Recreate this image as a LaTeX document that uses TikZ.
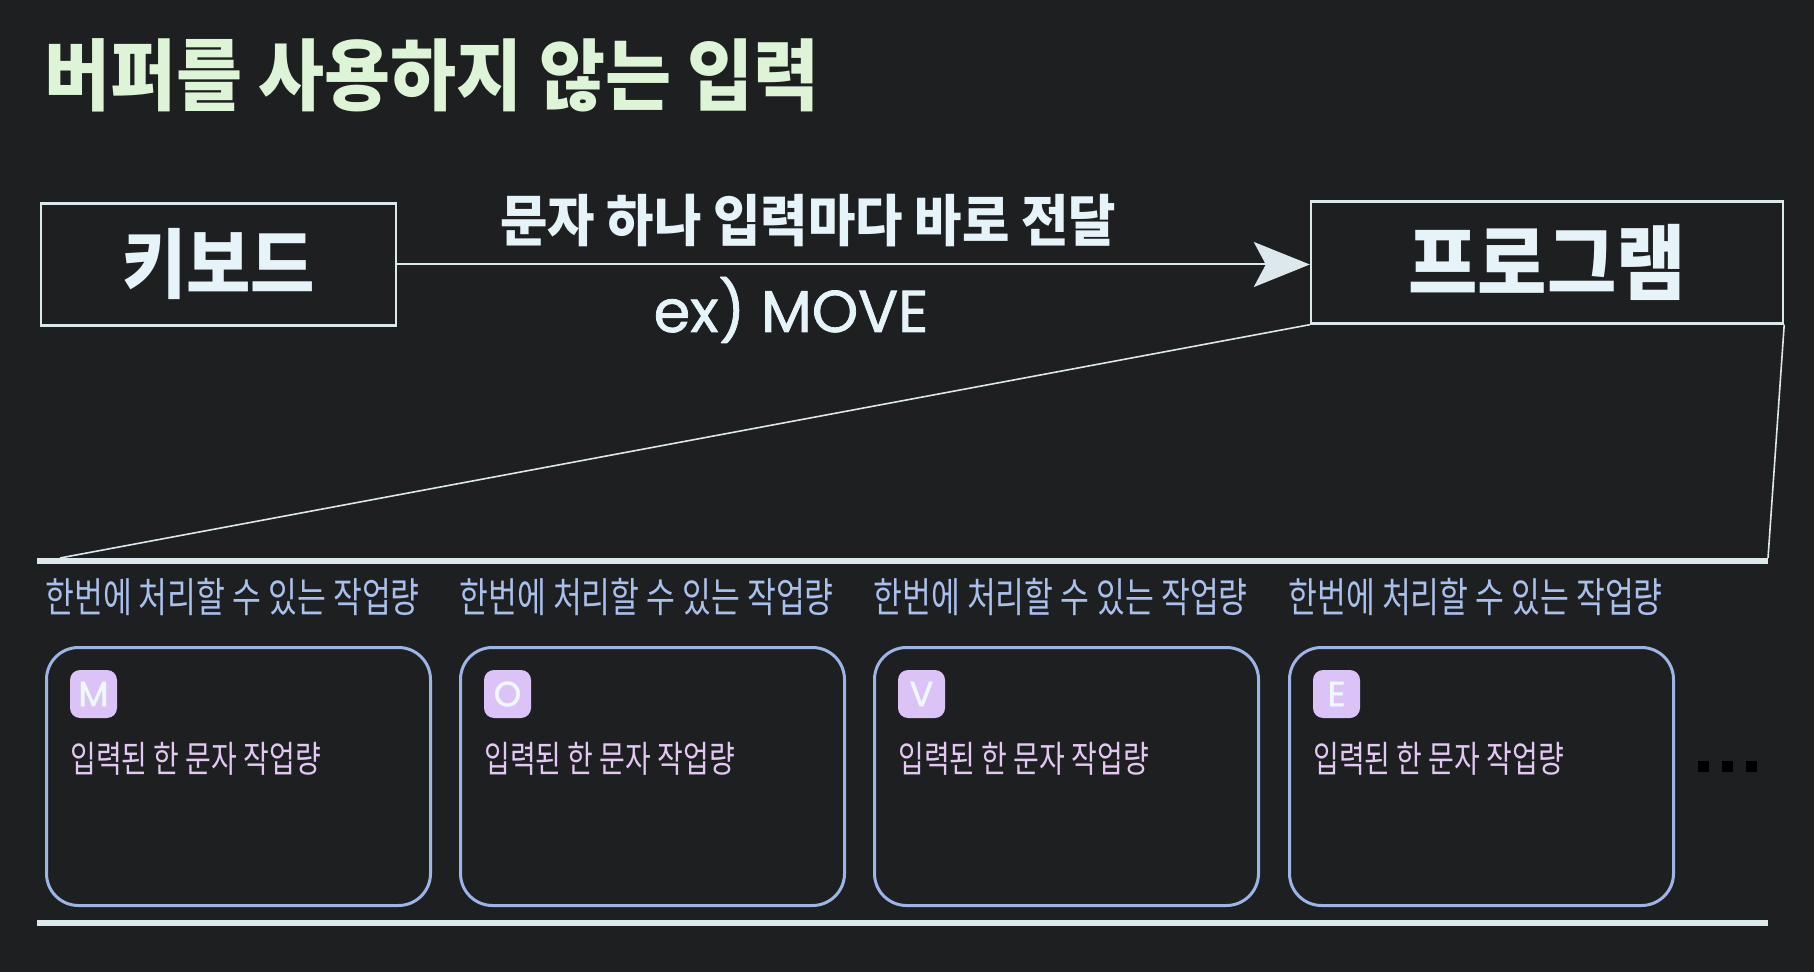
\documentclass[tikz,border=0pt]{standalone}
\usepackage{fontspec}
\setmainfont{Noto Sans CJK KR}
\newfontfamily\pop[FakeBold=1.3]{Poppins}
\newfontfamily\kcond[FakeStretch=0.765]{Noto Sans CJK KR}
\newfontfamily\kbig[FakeStretch=0.92]{Noto Sans CJK KR}
\usetikzlibrary{arrows.meta,calc}
\definecolor{bg}{HTML}{1E1F21}
\definecolor{titlegreen}{HTML}{DDF5D6}
\definecolor{boxtext}{HTML}{E6F4FA}
\definecolor{boxline}{HTML}{DCE8EC}
\definecolor{headblue}{HTML}{A9BFEC}
\definecolor{cardline}{HTML}{9DB4E8}
\definecolor{badgefill}{HTML}{DCC3F7}
\definecolor{cardtext}{HTML}{E2C8F2}
\definecolor{badgeletter}{HTML}{EEF8FF}
\begin{document}
\begin{tikzpicture}[x=0.5pt,y=-0.5pt,
  titlestyle/.style={inner sep=0pt, text=titlegreen, font=\kbig\fontsize{39}{44}\selectfont\bfseries},
  bigbox/.style={draw=boxline, line width=1.2pt, inner sep=0pt, text=boxtext},
  kbfont/.style={font=\kbig\fontsize{38}{42}\selectfont\bfseries},
  progfont/.style={font=\kbig\fontsize{41}{46}\selectfont\bfseries},
  conn/.style={draw=boxline, line width=1pt},
  lbl/.style={inner sep=0pt, text=boxtext, font=\kbig\fontsize{28}{32}\selectfont\bfseries},
  exlbl/.style={inner sep=0pt, text=boxtext, font=\pop\fontsize{29.5}{34}\selectfont},
  thinline/.style={draw=boxline, line width=0.8pt},
  bar/.style={draw=boxline, line width=3pt},
  card/.style={draw=cardline, line width=1.5pt, rounded corners=16pt, minimum width=192pt, minimum height=129pt, inner sep=0pt},
  head/.style={inner sep=0pt, text=headblue, font=\kcond\fontsize{20.5}{24}\selectfont},
  badge/.style={fill=badgefill, rounded corners=5pt, minimum width=23.5pt, minimum height=24pt, inner sep=0pt, text=badgeletter, font=\pop\fontsize{17.5}{18}\selectfont},
  ctext/.style={inner sep=0pt, text=cardtext, font=\kcond\fontsize{18.3}{22}\selectfont}
]
\fill[bg] (0,0) rectangle (1814,972);
\useasboundingbox (0,0) rectangle (1814,972);

\node[titlestyle, anchor=base west] (title) at (44,105) {버퍼를 사용하지 않는 입력};

\node[bigbox, kbfont, minimum width=177.5pt, minimum height=61pt] (kb) at (218.5,264.5) {키보드};
\node[bigbox, progfont, minimum width=236pt, minimum height=61pt] (prog) at (1547,262.5) {프로그램};
\draw[conn, -{Stealth[length=28pt,width=22.5pt,inset=6pt]}, fill=boxtext] (kb.east) -- (kb.east -| prog.west);

\node[lbl, anchor=base] (lab1) at (808,242) {문자 하나 입력마다 바로 전달};
\node[exlbl, anchor=base] (lab2) at (791,332) {ex) MOVE};

\coordinate (tl) at (60,558);
\coordinate (tr) at (1768,558);
\draw[thinline] (prog.south west) -- (tl);
\draw[thinline] (prog.south east) -- (tr);

\coordinate (b1l) at (37,561);
\coordinate (b1r) at (1768,561);
\coordinate (b2l) at (37,923);
\coordinate (b2r) at (1768,923);
\draw[bar] (b1l) -- (b1r);
\draw[bar] (b2l) -- (b2r);

\foreach \i/\x/\L in {1/45/M,2/459/O,3/873/V,4/1288/E}{
  \node[card, anchor=north west] (c\i) at (\x,646) {};
  \node[head, anchor=base west] (h\i) at (\x,612) {한번에 처리할 수 있는 작업량};
  \node[badge] (bd\i) at ($(c\i.north west)+(48.5,48)$) {\L};
  \node[ctext, anchor=base west] (t\i) at ($(c\i.north west)+(25,126)$) {입력된 한 문자 작업량};
}

\foreach \dx in {1698,1722,1746}{
  \fill[black] (\dx,761) rectangle ++(11,11);
}
\end{tikzpicture}
\end{document}
